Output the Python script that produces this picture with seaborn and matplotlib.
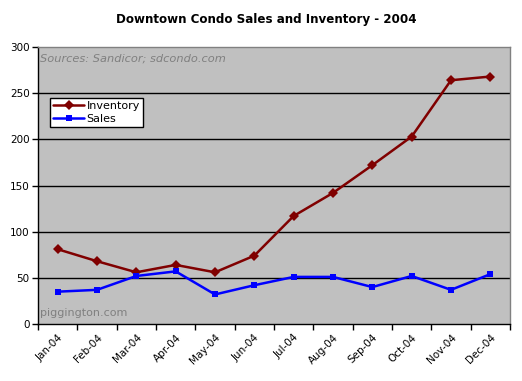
import numpy as np
import pandas as pd
import matplotlib
matplotlib.use('Agg')
import matplotlib.pyplot as plt
import seaborn as sns
from matplotlib.ticker import FixedLocator

# values
months = ['Jan-04', 'Feb-04', 'Mar-04', 'Apr-04', 'May-04', 'Jun-04',
          'Jul-04', 'Aug-04', 'Sep-04', 'Oct-04', 'Nov-04', 'Dec-04']
inventory = [81, 68, 56, 64, 56, 74, 117, 142, 172, 203, 264, 268]
sales = [35, 37, 52, 57, 32, 42, 51, 51, 40, 52, 37, 54]

data = pd.DataFrame({'Month': months * 2,
                     'Units': inventory + sales,
                     'Series': ['Inventory'] * 12 + ['Sales'] * 12})

sns.set_style('white')
plt.rcParams['font.family'] = ['DejaVu Sans']
plt.rcParams['text.color'] = 'black'
plt.rcParams['xtick.color'] = 'black'
plt.rcParams['ytick.color'] = 'black'

fig = plt.figure(figsize=(5.22, 3.81), dpi=100)
ax = fig.add_axes([38 / 522, 57 / 381, 472 / 522, 277 / 381])
ax.set_facecolor('#c0c0c0')

sns.lineplot(data=data, x='Month', y='Units', hue='Series', style='Series',
             palette={'Inventory': '#800000', 'Sales': '#0000ff'},
             markers={'Inventory': 'D', 'Sales': 's'}, dashes=False,
             markersize=5, markeredgewidth=0, linewidth=1.8, sort=False, ax=ax)

ax.set_xlim(-0.5, 11.5)
ax.set_ylim(0, 300)
ax.set_yticks(range(0, 301, 50))
for y in range(50, 300, 50):
    ax.axhline(y, color='black', linewidth=1, zorder=0)

ax.set_xticks(range(12))
ax.set_xticklabels(months, rotation=45, ha='right', rotation_mode='anchor', fontsize=7.5)
ax.xaxis.set_minor_locator(FixedLocator(np.arange(-0.5, 12, 1)))
ax.tick_params(axis='x', which='major', length=0, pad=6)
ax.tick_params(axis='x', which='minor', length=4, width=1, direction='out', bottom=True)
ax.tick_params(axis='y', length=4, width=1, direction='out', left=True, labelsize=7.5, pad=2)
ax.set_xlabel('')
ax.set_ylabel('')

for side in ['left', 'bottom']:
    ax.spines[side].set_color('black')
    ax.spines[side].set_linewidth(1)
for side in ['top', 'right']:
    ax.spines[side].set_color('#808080')
    ax.spines[side].set_linewidth(1)

ax.text(0.005, 0.975, 'Sources: Sandicor; sdcondo.com', transform=ax.transAxes,
        fontsize=8.2, style='italic', color='#808080', va='top', ha='left')
ax.text(0.005, 0.02, 'piggington.com', transform=ax.transAxes,
        fontsize=8, color='#808080', va='bottom', ha='left')

leg = ax.legend(loc='upper left', bbox_to_anchor=(12 / 472, 226 / 277), fontsize=8,
                frameon=True, fancybox=False, framealpha=1, borderaxespad=0,
                handlelength=2.8, handletextpad=0.2, borderpad=0.3, labelspacing=0.2)
leg.get_frame().set_edgecolor('black')
leg.get_frame().set_linewidth(1)

fig.suptitle('Downtown Condo Sales and Inventory - 2004', x=266 / 522, y=1 - 20 / 381,
             fontsize=8.6, fontweight='bold', va='center', color='black')

fig.savefig('out.png', dpi=100, facecolor='white')
